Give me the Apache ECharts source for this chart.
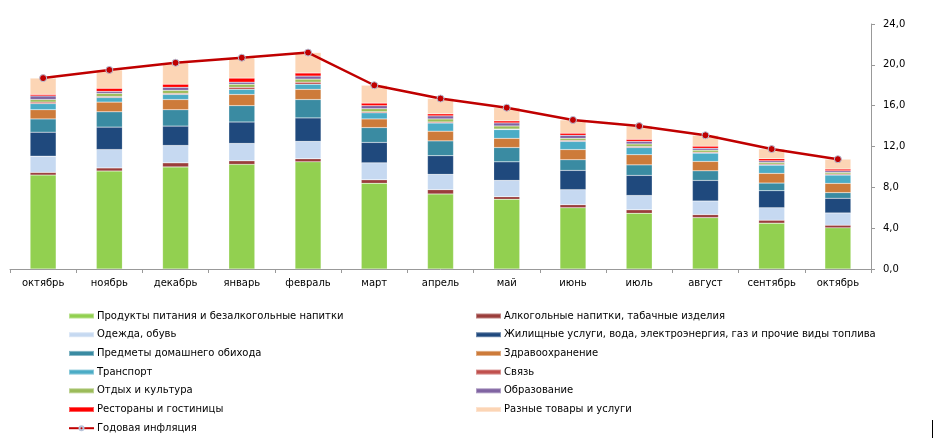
<!DOCTYPE html>
<html>
<head>
<meta charset="utf-8">
<script src="https://cdn.jsdelivr.net/npm/echarts@6/dist/echarts.min.js"></script>
<style>
html,body{margin:0;padding:0;background:#fff;}
#chart{width:933px;height:438px;}
</style>
</head>
<body>
<div id="chart"></div>
<script>
var categories = ['октябрь','ноябрь','декабрь','январь','февраль','март','апрель','май','июнь','июль','август','сентябрь','октябрь'];

var food        = [9.2, 9.6, 10.0, 10.25, 10.5, 8.4, 7.35, 6.83, 6.0, 5.46, 5.03, 4.49, 4.03];
var alcohol     = [0.26, 0.3, 0.4, 0.35, 0.3, 0.34, 0.42, 0.25, 0.3, 0.34, 0.3, 0.29, 0.26];
var clothes     = [1.59, 1.8, 1.7, 1.7, 1.7, 1.66, 1.5, 1.6, 1.47, 1.4, 1.33, 1.22, 1.2];
var housing     = [2.35, 2.2, 1.9, 2.1, 2.3, 2.0, 1.83, 1.82, 1.89, 1.97, 2.02, 1.67, 1.44];
var household   = [1.3, 1.5, 1.6, 1.6, 1.8, 1.45, 1.45, 1.4, 1.04, 1.03, 0.94, 0.75, 0.55];
var health      = [0.9, 0.95, 1.0, 1.1, 1.0, 0.85, 0.95, 0.9, 1.0, 1.0, 0.92, 0.95, 0.91];
var transport   = [0.6, 0.45, 0.5, 0.5, 0.5, 0.6, 0.8, 0.86, 0.8, 0.7, 0.81, 0.8, 0.81];
var communication = [0.15, 0.1, 0.1, 0.2, 0.2, 0.1, 0.1, 0.05, 0.1, 0.1, 0.09, 0.1, 0.1];
var recreation  = [0.25, 0.3, 0.3, 0.3, 0.3, 0.3, 0.3, 0.3, 0.2, 0.25, 0.2, 0.17, 0.16];
var education   = [0.35, 0.2, 0.3, 0.2, 0.3, 0.3, 0.3, 0.3, 0.3, 0.25, 0.19, 0.16, 0.16];
var restaurants = [0.15, 0.3, 0.3, 0.4, 0.3, 0.25, 0.2, 0.2, 0.2, 0.2, 0.2, 0.2, 0.17];
var misc        = [1.6, 1.8, 2.1, 2.0, 2.0, 1.75, 1.5, 1.3, 1.3, 1.3, 1.07, 0.97, 0.97];
var inflation   = [18.7, 19.5, 20.2, 20.7, 21.2, 18.0, 16.7, 15.8, 14.6, 14.0, 13.1, 11.75, 10.76];

var yTicks = [0, 4, 8, 12, 16, 20, 24];

var barSeries = [
  ['Продукты питания и безалкогольные напитки', food, '#92D050'],
  ['Алкогольные напитки, табачные изделия', alcohol, '#9A3D3B'],
  ['Одежда, обувь', clothes, '#C6D9F1'],
  ['Жилищные услуги, вода, электроэнергия, газ и прочие виды топлива', housing, '#1F497D'],
  ['Предметы домашнего обихода', household, '#3A8BA2'],
  ['Здравоохранение', health, '#CD7B3A'],
  ['Транспорт', transport, '#4BACC6'],
  ['Связь', communication, '#C0504D'],
  ['Отдых и культура', recreation, '#9BBB59'],
  ['Образование', education, '#8064A2'],
  ['Рестораны и гостиницы', restaurants, '#FF0000'],
  ['Разные товары и услуги', misc, '#FCD5B5']
];
var lineName = 'Годовая инфляция';

var series = barSeries.map(function (s) {
  return {
    name: s[0], type: 'bar', stack: 'total', data: s[1], barWidth: 26,
    itemStyle: { color: s[2], borderColor: 'rgba(255,255,255,0.35)', borderWidth: 0.5 },
    emphasis: { disabled: true }
  };
});
series.push({
  name: lineName, type: 'line', data: inflation,
  symbol: 'circle', symbolSize: 7,
  lineStyle: { color: '#C00000', width: 2.5 },
  itemStyle: { color: '#C00000', borderColor: '#B8C4DA', borderWidth: 1 },
  z: 10
});

function rectItem(name) { return { name: name, icon: 'rect' }; }
var leftNames = [barSeries[0][0], barSeries[2][0], barSeries[4][0], barSeries[6][0], barSeries[8][0], barSeries[10][0]].map(rectItem);
leftNames.push({ name: lineName });
var rightNames = [barSeries[1][0], barSeries[3][0], barSeries[5][0], barSeries[7][0], barSeries[9][0], barSeries[11][0]].map(rectItem);

var legendCommon = {
  orient: 'vertical', itemWidth: 25, itemHeight: 5, itemGap: 8.7,
  textStyle: { fontFamily: 'DejaVu Sans', fontSize: 10, color: '#000', padding: [0, 0, 0, -2] },
  selectedMode: false, padding: 0
};

var chart = echarts.init(document.getElementById('chart'), null, { renderer: 'canvas' });
chart.setOption({
  animation: false,
  backgroundColor: '#fff',
  grid: { left: 10, right: 62, top: 24, bottom: 169, containLabel: false },
  xAxis: {
    type: 'category', data: categories, boundaryGap: true,
    axisLine: { lineStyle: { color: '#999', width: 1 } },
    axisTick: { show: true, length: 4, lineStyle: { color: '#999' } },
    axisLabel: { fontFamily: 'DejaVu Sans', fontSize: 10, color: '#000', margin: 9, interval: 0 }
  },
  yAxis: {
    type: 'value', position: 'right', min: yTicks[0], max: yTicks[yTicks.length - 1], interval: 4,
    splitLine: { show: false },
    axisLine: { show: true, lineStyle: { color: '#999', width: 1 } },
    axisTick: { show: true, length: 4, lineStyle: { color: '#999' } },
    axisLabel: {
      fontFamily: 'DejaVu Sans', fontSize: 10, color: '#000', margin: 12,
      formatter: function (v) { return v.toFixed(1).replace('.', ','); }
    }
  },
  legend: [
    Object.assign({ left: 68, top: 311, data: leftNames }, legendCommon),
    Object.assign({ left: 475, top: 311, data: rightNames }, legendCommon)
  ],
  graphic: [{
    type: 'line', shape: { x1: 932.5, y1: 420, x2: 932.5, y2: 438 },
    style: { stroke: '#000', lineWidth: 1 }
  }],
  series: series
});
</script>
</body>
</html>
